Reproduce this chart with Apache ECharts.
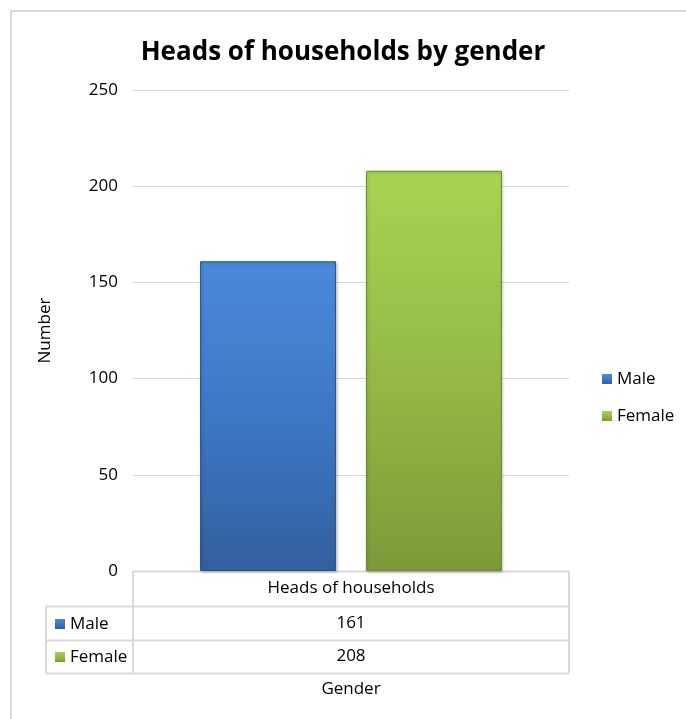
<!DOCTYPE html>
<html><head><meta charset="utf-8">
<script src="https://cdn.jsdelivr.net/npm/echarts@6/dist/echarts.min.js"></script>
<style>html,body{margin:0;padding:0;background:#fff}#c{width:686px;height:719px}</style>
</head><body><div id="c"></div>
<script>
// ---- data ----
const categories = ['Heads of households'];
const seriesNames = ['Male', 'Female'];
const maleValues = [161];
const femaleValues = [208];
const yTickValues = [0, 50, 100, 150, 200, 250];
const titleText = 'Heads of households by gender';
const yAxisTitle = 'Number';
const xAxisTitle = 'Gender';

// ---- styles ----
const FONT = 'Open Sans';
const FS = 17;
const maleColor = new echarts.graphic.LinearGradient(0, 0, 0, 1, [
  {offset: 0, color: '#4a8ad9'}, {offset: 0.5, color: '#3d78c4'}, {offset: 1, color: '#335f9e'}]);
const femaleColor = new echarts.graphic.LinearGradient(0, 0, 0, 1, [
  {offset: 0, color: '#a9d352'}, {offset: 0.5, color: '#94ba45'}, {offset: 1, color: '#7b9b3a'}]);
const seriesColors = [maleColor, femaleColor];
const seriesBorders = ['#2c5590', '#6e8c31'];
const allValues = [maleValues, femaleValues];

const G = {left: 133, right: 569, top: 90, bottom: 571};
const rows = [571, 606, 640, 673];
const tableLeft = 46;
const lineColor = '#d9d9d9';

const chart = echarts.init(document.getElementById('c'));

const graphic = [];
graphic.push({type: 'rect', shape: {x: 11, y: 11, width: 700, height: 720},
  style: {fill: 'none', stroke: '#d9d9d9', lineWidth: 2}, silent: true});
rows.forEach((y, i) => {
  graphic.push({type: 'line', shape: {x1: i === 0 ? G.left : tableLeft, y1: y + 0.5, x2: G.right, y2: y + 0.5},
    style: {stroke: lineColor, lineWidth: 2}, silent: true});
});
graphic.push({type: 'line', shape: {x1: tableLeft, y1: rows[1], x2: tableLeft, y2: rows[3]}, style: {stroke: lineColor, lineWidth: 2}});
graphic.push({type: 'line', shape: {x1: G.left, y1: rows[0], x2: G.left, y2: rows[3]}, style: {stroke: lineColor, lineWidth: 2}});
graphic.push({type: 'line', shape: {x1: G.right, y1: rows[0], x2: G.right, y2: rows[3]}, style: {stroke: lineColor, lineWidth: 2}});
seriesNames.forEach((n, i) => {
  graphic.push({type: 'text', x: (G.left + G.right) / 2, y: (rows[i + 1] + rows[i + 2]) / 2,
    style: {text: String(allValues[i][0]), font: FS + 'px "' + FONT + '"', fill: '#000', align: 'center', verticalAlign: 'middle'}});
});

const option = {
  animation: false,
  backgroundColor: '#fff',
  textStyle: {fontFamily: FONT},
  title: {text: titleText, left: 'center', top: 35,
    textStyle: {fontFamily: FONT, fontSize: 26, fontWeight: 'bold', color: '#000'}},
  legend: [
    {data: seriesNames, orient: 'vertical', left: 597, top: 365, itemWidth: 10, itemHeight: 10, itemGap: 19,
      itemTextGap: 2, icon: 'rect', textStyle: {fontSize: FS, lineHeight: 18, color: '#000', fontFamily: FONT}, itemStyle: {borderWidth: 0}},
    {data: seriesNames, orient: 'vertical', left: 50, top: 610, itemWidth: 10, itemHeight: 10, itemGap: 15,
      itemTextGap: 2, icon: 'rect', textStyle: {fontSize: FS, lineHeight: 18, color: '#000', fontFamily: FONT}, itemStyle: {borderWidth: 0}}
  ],
  grid: {left: G.left, right: 686 - G.right, top: G.top, bottom: 719 - G.bottom, containLabel: false},
  xAxis: {
    type: 'category', data: categories,
    axisLine: {show: false}, axisTick: {show: false},
    axisLabel: {fontSize: FS, color: '#000', margin: 9, fontFamily: FONT},
    name: xAxisTitle, nameLocation: 'middle', nameGap: 110,
    nameTextStyle: {fontSize: FS, color: '#000', fontFamily: FONT}
  },
  yAxis: {
    type: 'value', min: yTickValues[0], max: yTickValues[yTickValues.length - 1],
    interval: yTickValues[1] - yTickValues[0],
    axisLine: {show: false}, axisTick: {show: false},
    axisLabel: {fontSize: FS, color: '#000', margin: 15, fontFamily: FONT},
    splitLine: {lineStyle: {color: lineColor, width: 1}},
    name: yAxisTitle, nameLocation: 'middle', nameGap: 79,
    nameTextStyle: {fontSize: FS, color: '#000', fontFamily: FONT}
  },
  series: seriesNames.map((n, i) => ({
    name: n, type: 'bar', data: allValues[i], barWidth: 136, barGap: '22%',
    itemStyle: {color: seriesColors[i], borderColor: seriesBorders[i], borderWidth: 1,
      shadowColor: 'rgba(0,0,0,0.25)', shadowBlur: 3, shadowOffsetX: 1, shadowOffsetY: 1}
  })),
  graphic: graphic
};
chart.setOption(option);
</script></body></html>
